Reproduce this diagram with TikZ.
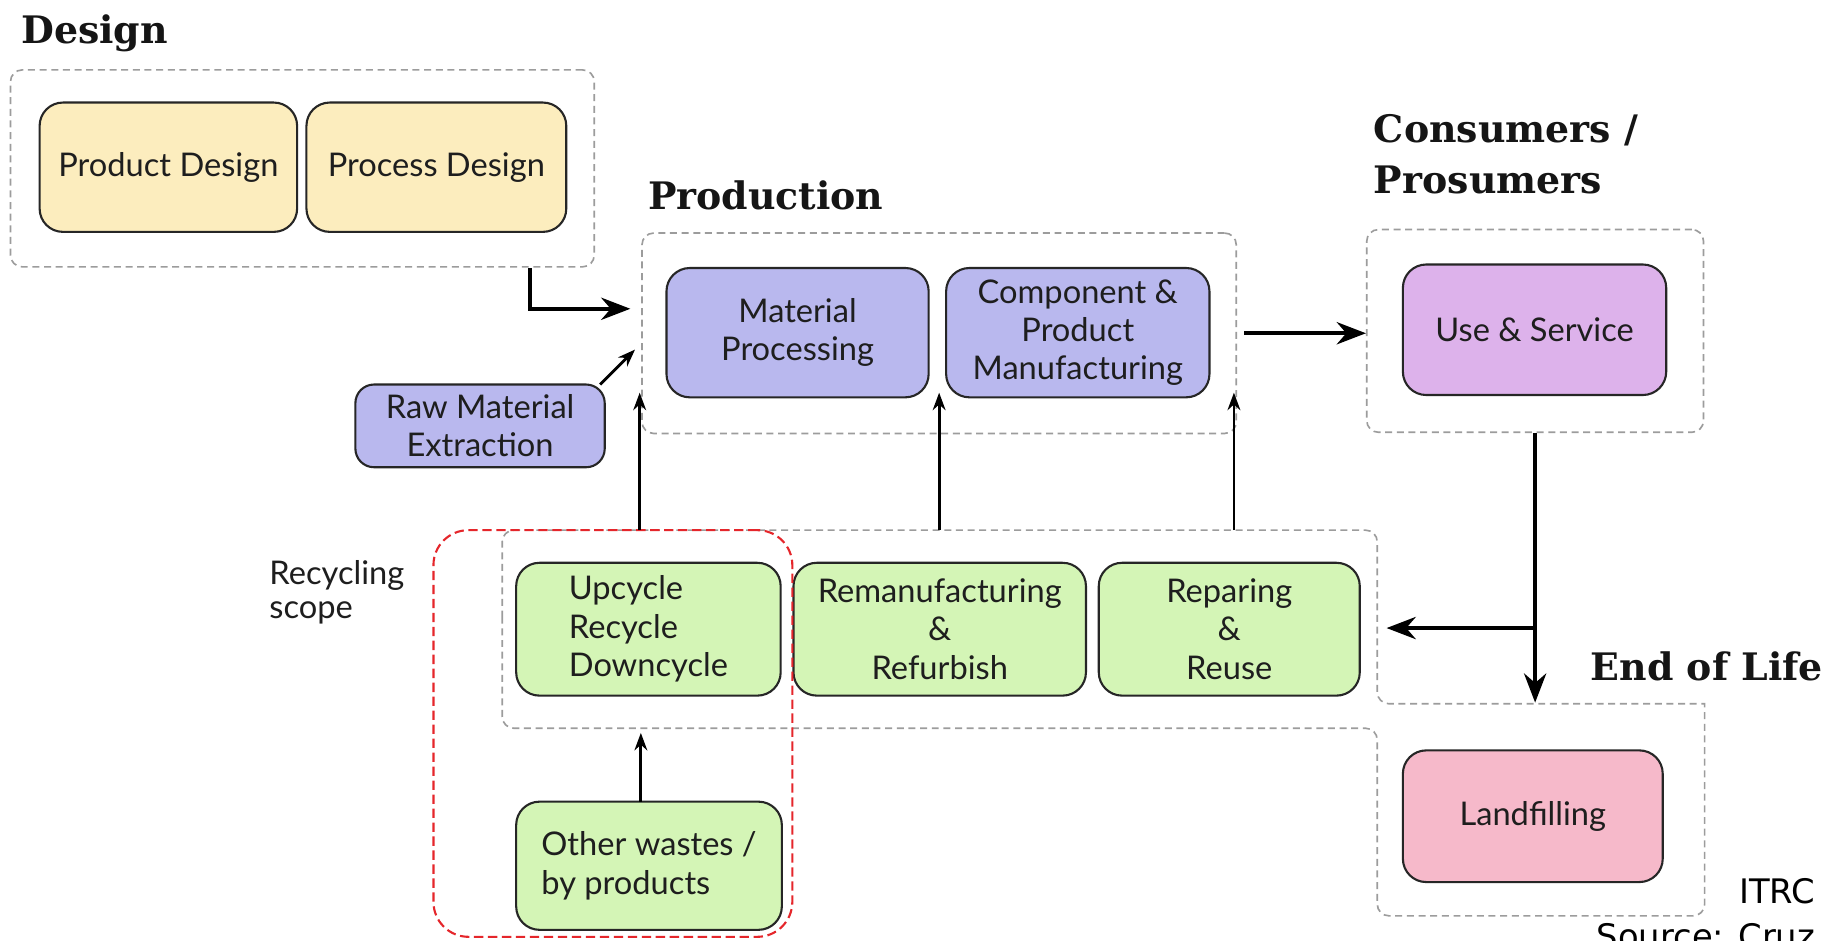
\documentclass[tikz,border=0pt]{standalone}
\usepackage{fontspec}
\setmainfont{Lato}
\newfontfamily\headfont{DejaVu Serif}
\newfontfamily\notefont{DejaVu Sans}
\usetikzlibrary{arrows.meta}
\definecolor{dashgray}{HTML}{9C9C9C}
\definecolor{boxline}{HTML}{262626}
\definecolor{boxtext}{HTML}{1E1E1E}
\definecolor{headtext}{HTML}{151515}
\definecolor{cyellow}{HTML}{FCEDBE}
\definecolor{cblue}{HTML}{B9B8EE}
\definecolor{cpurple}{HTML}{DDB2EB}
\definecolor{cgreen}{HTML}{D4F5B6}
\definecolor{cpink}{HTML}{F6B9CA}
\definecolor{cred}{HTML}{E5262B}
\tikzset{
  procbox/.style={draw=boxline, line width=1.8pt, rounded corners=20pt, text=boxtext,
    align=center, font={\fontsize{28}{33}\selectfont}, inner sep=0pt},
  grpbox/.style={draw=dashgray, line width=1.4pt, dash pattern=on 6pt off 4pt,
    rounded corners=10pt, inner sep=0pt},
  redbox/.style={draw=cred, line width=1.8pt, dash pattern=on 8pt off 4pt,
    rounded corners=30pt, inner sep=0pt},
  heading/.style={font={\headfont\bfseries\fontsize{32.5}{40}\selectfont}, text=headtext,
    inner sep=0pt, anchor=base west},
  plain/.style={font={\fontsize{28}{29}\selectfont}, text=boxtext, inner sep=0pt, align=left},
  note/.style={font={\notefont\fontsize{29}{34}\selectfont}, text=black, inner sep=0pt, anchor=base east},
  bigarrow/.style={line width=3.6pt, draw=black, -{Stealth[length=25pt,width=19pt]}},
  smallarrow/.style={line width=2.4pt, draw=black, -{Stealth[length=15pt,width=11pt]}},
}
\begin{document}
\begin{tikzpicture}[x=1pt,y=-1pt]
\useasboundingbox[fill=white] (0,0) rectangle (1568,807);

% group frames
\node[grpbox, minimum width=501pt, minimum height=169pt] (dgrp) at (259.5,144.5) {};
\node[grpbox, minimum width=510pt, minimum height=172pt] (pgrp) at (806,286) {};
\node[grpbox, minimum width=289pt, minimum height=174pt] (cgrp) at (1317.5,284) {};
\draw[draw=dashgray, line width=1.4pt, dash pattern=on 6pt off 4pt]
  (431,540) [rounded corners=10pt] -- (431,455) -- (1182,455) -- (1182,604)
  [sharp corners] -- (1463,604) [rounded corners=10pt] -- (1463,786) -- (1182,786)
  -- (1182,625) -- (431,625) -- cycle;

% headings
\node[heading] (hdesign) at (18,37) {Design};
\node[heading] (hprod) at (556,180) {Production};
\node[heading] (hcons1) at (1179,122) {Consumers /};
\node[heading] (hcons2) at (1179,166) {Prosumers};
\node[heading] (heol) at (1365,584) {End of Life};

% process boxes
\node[procbox, fill=cyellow, minimum width=221pt, minimum height=111pt] (pd) at (144.5,143.5) {Product Design};
\node[procbox, fill=cyellow, minimum width=223pt, minimum height=111pt] (prd) at (374.5,143.5) {Process Design};
\node[procbox, fill=cblue, minimum width=225pt, minimum height=111pt] (mp) at (684.5,285.5) {Material\\Processing};
\node[procbox, fill=cblue, minimum width=226pt, minimum height=111pt] (cpm) at (925,285.5) {Component \&\\Product\\Manufacturing};
\node[procbox, fill=cpurple, minimum width=226pt, minimum height=112pt] (us) at (1317,283) {Use \& Service};
\node[procbox, fill=cblue, minimum width=214pt, minimum height=71pt, rounded corners=16pt] (rme) at (412,365.5) {Raw Material\\Extraction};
\node[procbox, fill=cgreen, minimum width=227pt, minimum height=114pt, align=left] (uc) at (556.5,540) {Upcycle\\Recycle\\Downcycle};
\node[procbox, fill=cgreen, minimum width=251pt, minimum height=114pt] (rr) at (806.5,540) {Remanufacturing\\\&\\Refurbish};
\node[procbox, fill=cgreen, minimum width=224pt, minimum height=114pt] (rp) at (1055,540) {Reparing\\\&\\Reuse};
\node[procbox, fill=cgreen, minimum width=228pt, minimum height=110pt, align=left] (ow) at (557,743) {Other wastes /\\by products};
\node[procbox, fill=cpink, minimum width=223pt, minimum height=113pt] (lf) at (1315.5,700.5) {Landfilling};

% recycling scope
\node[redbox, minimum width=308pt, minimum height=349pt] (rscope) at (526,629.5) {};
\node[plain, anchor=west] (rlabel) at (231,508) {Recycling\\scope};

% notes
\node[note] (itrc) at (1558,775) {ITRC};
\node[note] (src) at (1558,814) {Source: Cruz};

% connector end points
\coordinate (dsrc) at (455,230);
\coordinate (dtgt) at (541,265);
\coordinate (rsrc) at (515,330);
\coordinate (rtgt) at (545,300);
\coordinate (u1a) at (549,455); \coordinate (u1b) at (549,337);
\coordinate (u2a) at (806,455); \coordinate (u2b) at (806,337);
\coordinate (u3a) at (1059,455); \coordinate (u3b) at (1059,337);
\coordinate (eoltop) at (1317.5,603);
\coordinate (split) at (1317.5,539);
\coordinate (reuseR) at (1190,539);
\coordinate (owsrc) at (550,688);
\coordinate (reusebot) at (550,629);

% connectors
\draw[bigarrow] (dsrc) |- (dtgt);
\draw[smallarrow] (rsrc) -- (rtgt);
\draw[bigarrow] ([xshift=6pt]pgrp.east) -- (cgrp.west |- pgrp.east);
\draw[bigarrow] (cgrp.south) -- (eoltop);
\draw[bigarrow] (split) -- (reuseR);
\draw[smallarrow] (u1a) -- (u1b);
\draw[smallarrow] (u2a) -- (u2b);
\draw[smallarrow] (u3a) -- (u3b);
\draw[smallarrow] (owsrc) -- (reusebot);
\end{tikzpicture}
\end{document}
